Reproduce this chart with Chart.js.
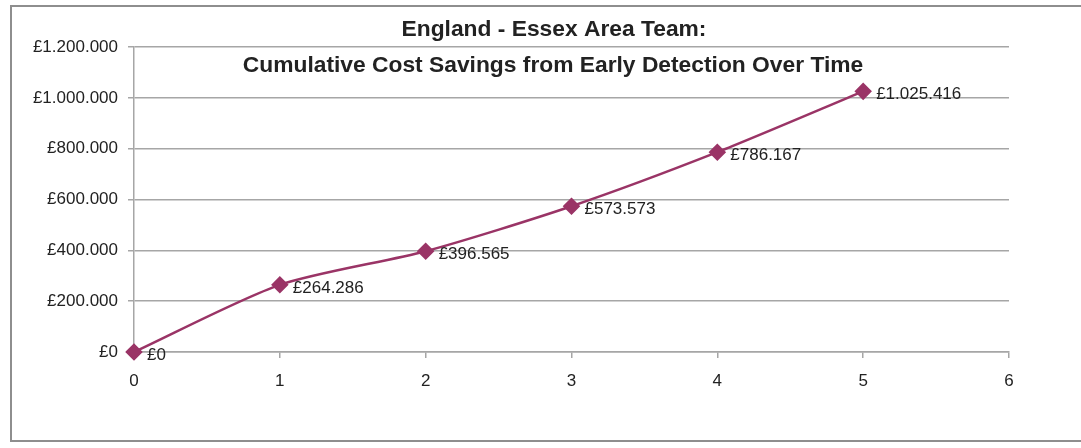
<!DOCTYPE html>
<html>
<head>
<meta charset="utf-8">
<script src="https://cdn.jsdelivr.net/npm/chart.js@4"></script>
<style>
  html, body { margin: 0; padding: 0; background: #fff; }
  #wrap { position: relative; width: 1081px; height: 448px; overflow: hidden; }
  #frame { position: absolute; left: 10px; top: 5px; width: 1085px; height: 437px; border: 2px solid #8e8e8e; box-sizing: border-box; }
  canvas { position: absolute; left: 0; top: 0; }
</style>
</head>
<body>
<div id="wrap">
  <div id="frame"></div>
  <canvas id="chart" width="1081" height="448"></canvas>
</div>
<script>
// Years since start and cumulative savings
const years = [0, 1, 2, 3, 4, 5];
const savings = [0, 264286, 396565, 573573, 786167, 1025416];
const titleLines = ['England - Essex Area Team:', 'Cumulative Cost Savings from Early Detection Over Time'];

const lineColor = '#9a3466';
const textColor = '#222222';
const gridColor = '#a6a6a6';
const fontFamily = '"Liberation Sans", Arial, sans-serif';

// Format as £1.025.416
function formatPounds(v) {
    return '£' + Math.round(v).toString().replace(/\B(?=(\d{3})+(?!\d))/g, '.');
}

// Point value labels to the right of each marker
const valueLabels = {
    id: 'valueLabels',
    afterDatasetsDraw(chart) {
        const ctx = chart.ctx;
        const meta = chart.getDatasetMeta(0);
        ctx.save();
        ctx.font = '17px ' + fontFamily;
        ctx.fillStyle = textColor;
        ctx.textAlign = 'left';
        ctx.textBaseline = 'middle';
        meta.data.forEach((pt, i) => {
            ctx.fillText(formatPounds(savings[i]), pt.x + 13, pt.y + 3);
        });
        ctx.restore();
    }
};

// Excel-style title sitting over the plot area
const overlayTitle = {
    id: 'overlayTitle',
    afterDraw(chart) {
        const ctx = chart.ctx;
        ctx.save();
        ctx.font = 'bold 22.8px ' + fontFamily;
        ctx.fillStyle = textColor;
        ctx.textAlign = 'center';
        ctx.textBaseline = 'middle';
        ctx.fillText(titleLines[0], 554, 30);
        ctx.fillText(titleLines[1], 553, 66);
        ctx.restore();
    }
};

const chart = new Chart(document.getElementById('chart'), {
    type: 'line',
    data: {
        datasets: [{
            data: years.map((x, i) => ({ x: x, y: savings[i] })),
            borderColor: lineColor,
            backgroundColor: lineColor,
            borderWidth: 2.5,
            tension: 0.25,
            pointStyle: 'rectRot',
            pointRadius: 7,
            pointHoverRadius: 7,
            pointBackgroundColor: lineColor,
            pointBorderColor: lineColor,
            clip: false
        }]
    },
    options: {
        responsive: false,
        animation: false,
        events: [],
        layout: { padding: { top: 47, right: 72, left: 0, bottom: 0 } },
        plugins: {
            legend: { display: false },
            title: { display: false },
            tooltip: { enabled: false }
        },
        scales: {
            x: {
                type: 'linear',
                min: 0,
                max: 6,
                afterFit(scale) { scale.height = 96; },
                border: { display: true, color: gridColor, width: 1.5 },
                grid: { drawOnChartArea: false, drawTicks: true, tickLength: 6, color: gridColor, lineWidth: 1.5 },
                ticks: {
                    stepSize: 1,
                    padding: 13,
                    color: textColor,
                    font: { family: fontFamily, size: 17 }
                }
            },
            y: {
                min: 0,
                max: 1200000,
                afterFit(scale) { scale.width = 134; },
                border: { display: true, color: gridColor, width: 1.5 },
                grid: { color: gridColor, lineWidth: 1.5, tickLength: 6 },
                ticks: {
                    stepSize: 200000,
                    padding: 10,
                    color: textColor,
                    font: { family: fontFamily, size: 17 },
                    callback: (v) => formatPounds(v)
                }
            }
        }
    },
    plugins: [valueLabels, overlayTitle]
});
</script>
</body>
</html>
